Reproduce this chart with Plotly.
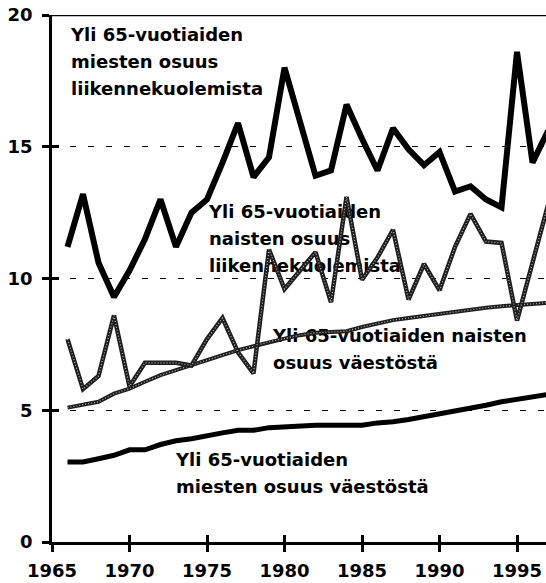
import plotly.graph_objects as go

years = list(range(1966, 1998))

men_traffic = [11.2, 13.2, 10.6, 9.3, 10.3, 11.5, 13.0, 11.2, 12.5, 13.0,
               14.4, 15.9, 13.85, 14.6, 18.0, 16.0, 13.9, 14.1, 16.6, 15.3,
               14.1, 15.7, 14.9, 14.3, 14.8, 13.3, 13.5, 13.0, 12.7, 18.6,
               14.4, 15.6]

women_traffic = [7.7, 5.8, 6.3, 8.6, 5.9, 6.8, 6.8, 6.8, 6.7, 7.7,
                 8.5, 7.2, 6.4, 11.1, 9.6, 10.3, 11.0, 9.1, 13.1, 9.95,
                 10.8, 11.85, 9.2, 10.55, 9.55, 11.2, 12.45, 11.4, 11.35, 8.4,
                 10.6, 12.8]

women_pop = [5.1, 5.2, 5.32, 5.63, 5.82, 6.08, 6.33, 6.52, 6.7, 6.9,
             7.09, 7.28, 7.43, 7.6, 7.72, 7.85, 7.94, 7.97, 8.0, 8.16,
             8.29, 8.42, 8.5, 8.58, 8.67, 8.73, 8.82, 8.89, 8.95, 8.99,
             9.05, 9.08]

men_pop = [3.04, 3.04, 3.16, 3.29, 3.5, 3.5, 3.7, 3.84, 3.92, 4.05,
           4.14, 4.24, 4.24, 4.34, 4.37, 4.43, 4.43, 4.43, 4.43, 4.43,
           4.52, 4.56, 4.65, 4.75, 4.85, 4.97, 5.09, 5.19, 5.32, 5.4,
           5.5, 5.6]

x_ticks = [1965, 1970, 1975, 1980, 1985, 1990, 1995]
y_ticks = [0, 5, 10, 15, 20]

# label lines, left x, y of first line (text placement only)
labels = [
    (["Yli 65-vuotiaiden", "miesten osuus", "liikennekuolemista"], 1966.23, 19.17),
    (["Yli 65-vuotiaiden", "naisten osuus", "liikennekuolemista"], 1975.13, 12.45),
    (["Yli 65-vuotiaiden naisten", "osuus väestöstä"], 1979.26, 7.78),
    (["Yli 65-vuotiaiden", "miesten osuus väestöstä"], 1973.0, 3.07),
]
LINE_STEP = 1.025  # spacing of label lines in y units

X_RANGE = [1965, 1996.87]
Y_RANGE = [0, 20]
FONT = "'DejaVu Sans', sans-serif"

fig = go.Figure()

# text first, so that lines are drawn over it as in the original
for lines, lx, ly in labels:
    fig.add_trace(go.Scatter(
        x=[lx] * len(lines), y=[ly - i * LINE_STEP for i in range(len(lines))],
        mode="text", text=lines, textposition="middle right",
        textfont=dict(family=FONT, size=18, color="black", weight="bold"),
        hoverinfo="skip", showlegend=False, cliponaxis=False))

# grey (stippled) series: dark base + light dotted overlay
for series, w in [(women_pop, 4), (women_traffic, 4.5)]:
    fig.add_trace(go.Scatter(x=years, y=series, mode="lines",
                             line=dict(color="#1e1e1e", width=w),
                             showlegend=False, hoverinfo="skip"))
    fig.add_trace(go.Scatter(x=years, y=series, mode="lines",
                             line=dict(color="#b8b8b8", width=1.2, dash="1px,2px"),
                             showlegend=False, hoverinfo="skip"))

fig.add_trace(go.Scatter(x=years, y=men_pop, mode="lines",
                         line=dict(color="black", width=5),
                         showlegend=False))
fig.add_trace(go.Scatter(x=years, y=men_traffic, mode="lines",
                         line=dict(color="black", width=6),
                         showlegend=False))

# dummy trace for the overlay axes that draw the inside half of cross ticks
fig.add_trace(go.Scatter(x=[None], y=[None], xaxis="x2", yaxis="y2",
                         showlegend=False, hoverinfo="skip"))

tickfont = dict(family=FONT, size=18, color="black", weight="bold")

fig.update_layout(
    width=546, height=583,
    margin=dict(l=52, r=0, t=15, b=41, autoexpand=False),
    paper_bgcolor="white", plot_bgcolor="white",
    font=dict(family=FONT, color="black"),
    xaxis=dict(range=X_RANGE, tickvals=x_ticks,
               ticks="outside", ticklen=7,
               tickwidth=2.5, tickcolor="black", showline=True, linecolor="black",
               linewidth=3, showgrid=False, zeroline=False, automargin=False,
               tickfont=tickfont, ticklabelstandoff=3),
    yaxis=dict(range=Y_RANGE, tickvals=y_ticks,
               ticks="outside", ticklen=7,
               tickwidth=2.5, tickcolor="black", showline=True, linecolor="black",
               linewidth=2.5, showgrid=True, gridcolor="black", gridwidth=1.3,
               griddash="6px,12px", zeroline=False, automargin=False,
               tickfont=tickfont, ticklabelstandoff=6),
    xaxis2=dict(range=X_RANGE, overlaying="x", anchor="y2", side="bottom",
                tickvals=x_ticks, ticks="inside", ticklen=7, tickwidth=2.5,
                tickcolor="black", showticklabels=False, showgrid=False,
                showline=False, zeroline=False, automargin=False),
    yaxis2=dict(range=Y_RANGE, overlaying="y", anchor="x2", side="left",
                tickvals=y_ticks, ticks="inside", ticklen=7, tickwidth=2.5,
                tickcolor="black", showticklabels=False, showgrid=False,
                showline=False, zeroline=False, automargin=False),
    shapes=[dict(type="line", xref="paper", yref="y", x0=-0.01, x1=1,
                 y0=Y_RANGE[1], y1=Y_RANGE[1],
                 line=dict(color="black", width=2.5))],
)

fig.write_html("out.html", config={"displayModeBar": False},
               post_script="document.body.style.margin='0';document.body.style.overflow='hidden';")
